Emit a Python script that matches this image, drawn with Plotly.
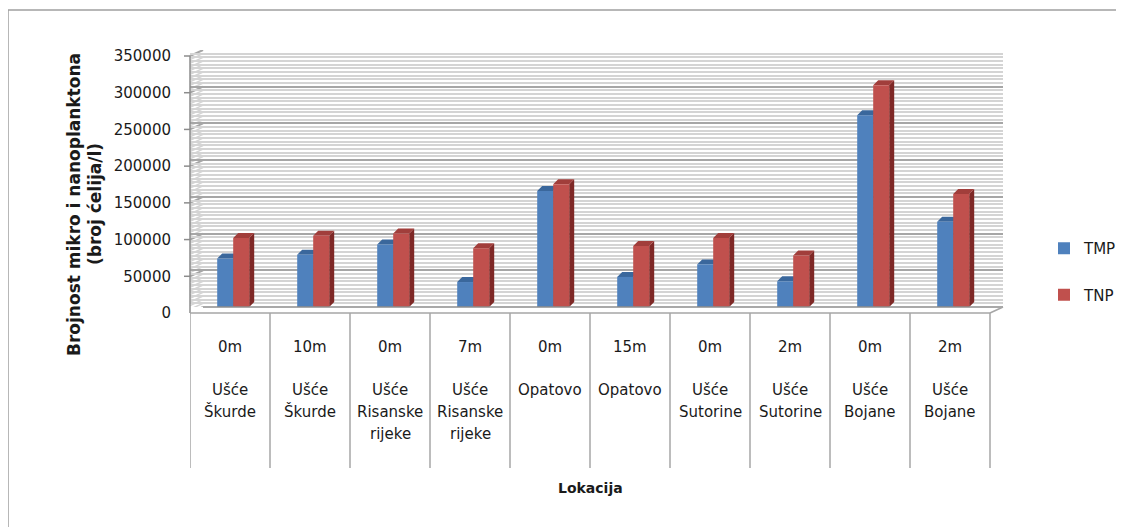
import plotly.graph_objects as go

depths = ["0m", "10m", "0m", "7m", "0m", "15m", "0m", "2m", "0m", "2m"]
locations = ["Ušće\nŠkurde", "Ušće\nŠkurde", "Ušće\nRisanske\nrijeke", "Ušće\nRisanske\nrijeke",
             "Opatovo", "Opatovo", "Ušće\nSutorine", "Ušće\nSutorine", "Ušće\nBojane", "Ušće\nBojane"]
tmp = [66000, 71000, 85000, 34000, 158000, 41000, 58000, 35000, 261000, 116000]
tnp = [94000, 97000, 100000, 80000, 167000, 83000, 94000, 70000, 302000, 154000]
yticks = [0, 50000, 100000, 150000, 200000, 250000, 300000, 350000]

# the page body has an 8px margin, so the figure is drawn 8px smaller and targets are in screen px
OFF = 8
W, H = 1124 - OFF, 527 - OFF
PL, PR, PT, PB = 190, 1003, 50, 307   # plot area on screen (back wall reaches 1003)
CAT_W = 80                            # px per category on the front edge
YMAX = 350000
MINOR = 5000
FONT = "DejaVu Sans"
TXT = "#1a1a1a"
GRID = "#A6A6A6"
GRID_MINOR = "#D4D4D4"


def px_x(px):
    return (px - PL) / (PR - PL)


def px_y(py):
    return (PB - py) / (PB - PT)


x = list(range(len(depths)))
xmax = -0.5 + (PR - PL) / CAT_W
bw = 0.2      # bar width in category units
shift = 0.04  # bars sit a bit behind the front edge

fig = go.Figure()
fig.add_trace(go.Bar(x=x, y=tmp, name="TMP", marker_color="#4F81BD", marker_line_width=0,
                     width=bw, offset=-bw + shift, legendgroup="a"))
fig.add_trace(go.Bar(x=x, y=tnp, name="TNP", marker_color="#C0504D", marker_line_width=0,
                     width=bw, offset=shift, legendgroup="b"))

shapes = []
# left side wall of the 3d box
shapes.append(dict(type="path", xref="paper", yref="paper", layer="between", line_width=0,
                   fillcolor="white",
                   path=f"M{px_x(189)},{px_y(313)} L{px_x(189)},{px_y(56)} L{px_x(203)},{px_y(50)} "
                        f"L{px_x(203)},{px_y(307)} Z"))
for v in range(0, YMAX + MINOR, MINOR):
    major = v % 50000 == 0
    shapes.append(dict(type="line", xref="paper", yref="y", ysizemode="pixel", yanchor=v,
                       layer="between", x0=px_x(190), x1=px_x(203), y0=-6, y1=0,
                       line=dict(color=GRID if major else GRID_MINOR, width=2 if major else 1.5)))

# fake 3d: caps and side faces of the bars
dx = 5 / CAT_W
dy = 5 * YMAX / (PB - PT)
for i in x:
    for x0, v, cap, side in [(i - bw + shift, tmp[i], "#3A679C", "#2F5580"),
                             (i + shift, tnp[i], "#A13E3B", "#7E2826")]:
        x1 = x0 + bw
        shapes.append(dict(type="path", xref="x", yref="y", layer="between", line_width=0,
                           fillcolor=side,
                           path=f"M{x1},0 L{x1 + dx},{dy} L{x1 + dx},{v + dy} L{x1},{v} Z"))
        shapes.append(dict(type="path", xref="x", yref="y", layer="between", line_width=0,
                           fillcolor=cap,
                           path=f"M{x0},{v} L{x0 + dx},{v + dy} L{x1 + dx},{v + dy} L{x1},{v} Z"))

# front y axis with ticks
shapes.append(dict(type="line", xref="paper", yref="paper", x0=px_x(190), x1=px_x(190),
                   y0=px_y(313), y1=px_y(56), line=dict(color="#8C8C8C", width=1.5)))
for v in yticks:
    shapes.append(dict(type="line", xref="paper", yref="y", ysizemode="pixel", yanchor=v,
                       x0=px_x(184), x1=px_x(190), y0=-6, y1=-6,
                       line=dict(color="#8C8C8C", width=1.5)))
# floor of the 3d box
shapes.append(dict(type="line", xref="paper", yref="paper", x0=px_x(190), y0=px_y(313),
                   x1=px_x(990), y1=px_y(313), line=dict(color="#A6A6A6", width=1.5)))
shapes.append(dict(type="line", xref="paper", yref="paper", x0=px_x(203), y0=px_y(307),
                   x1=px_x(1003), y1=px_y(307), line=dict(color="#8C8C8C", width=1.5)))
shapes.append(dict(type="line", xref="paper", yref="paper", x0=px_x(990), y0=px_y(313),
                   x1=px_x(1003), y1=px_y(307), line=dict(color="#A6A6A6", width=1.5)))
# category dividers
for i in range(len(depths) + 1):
    shapes.append(dict(type="line", xref="x", yref="paper", x0=i - 0.5, x1=i - 0.5,
                       y0=px_y(313), y1=px_y(468), line=dict(color="#A6A6A6", width=1.5)))
# outer border
shapes.append(dict(type="rect", xref="paper", yref="paper", x0=px_x(8), y0=px_y(10),
                   x1=px_x(1140), y1=px_y(545), line=dict(color="#A0A0A0", width=1.5)))

annotations = []
lab = dict(showarrow=False, xanchor="center", yanchor="middle")
for i in x:
    annotations.append(dict(x=i, y=px_y(347), xref="x", yref="paper", text=depths[i],
                            font=dict(family=FONT, size=15, color=TXT), **lab))
    for k, line in enumerate(locations[i].split("\n")):
        annotations.append(dict(x=i, y=px_y(390 + 22 * k), xref="x", yref="paper", text=line,
                                font=dict(family=FONT, size=15, color=TXT), **lab))
annotations.append(dict(x=px_x(590), y=px_y(488), xref="paper", yref="paper", text="<b>Lokacija</b>",
                        font=dict(family=FONT, size=14, color=TXT), **lab))
annotations.append(dict(x=px_x(74), y=px_y(204), xref="paper", yref="paper", textangle=-90,
                        text="<b>Brojnost mikro i nanoplanktona</b>",
                        font=dict(family=FONT, size=17, color=TXT), **lab))
annotations.append(dict(x=px_x(95), y=px_y(204), xref="paper", yref="paper", textangle=-90,
                        text="<b>(broj ćelija/l)</b>",
                        font=dict(family=FONT, size=17, color=TXT), **lab))

fig.update_layout(
    width=W, height=H,
    margin=dict(l=PL - OFF, r=W - (PR - OFF), t=PT - OFF, b=H - (PB - OFF), autoexpand=False),
    paper_bgcolor="white", plot_bgcolor="white",
    barmode="group", bargap=0.6, bargroupgap=0,
    shapes=shapes, annotations=annotations,
    legend=dict(x=px_x(1044), y=px_y(232), xanchor="left", yanchor="top",
                tracegroupgap=24, traceorder="grouped",
                font=dict(family=FONT, size=15, color=TXT)),
    xaxis=dict(range=[-0.5, xmax], showticklabels=False, showgrid=False,
               zeroline=False, showline=False, fixedrange=True, automargin=False),
    yaxis=dict(range=[0, YMAX], tickvals=yticks, tickformat="d", ticks="",
               showline=False, ticklabelshift=6, ticklabelstandoff=18, automargin=False,
               gridcolor=GRID, gridwidth=2, zeroline=False,
               minor=dict(dtick=MINOR, showgrid=True, gridcolor=GRID_MINOR, gridwidth=1.5),
               tickfont=dict(family=FONT, size=15, color=TXT)),
    showlegend=True,
)

fig.write_html("out.html")
